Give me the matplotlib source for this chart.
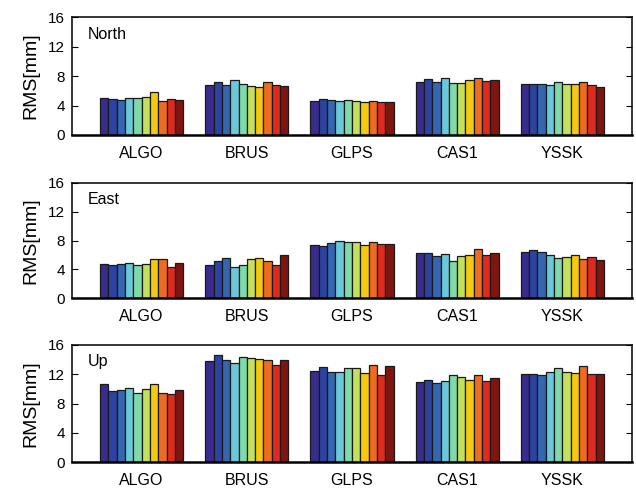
import numpy as np
import matplotlib
matplotlib.use("Agg")
import matplotlib.pyplot as plt

plt.rcParams['font.family'] = ['Liberation Sans', 'DejaVu Sans']

stations = ['ALGO', 'BRUS', 'GLPS', 'CAS1', 'YSSK']
components = ['North', 'East', 'Up']

# RMS [mm] per station, ten solutions each
rms_north = [
    [5.07, 4.93, 4.80, 5.07, 5.01, 5.20, 5.82, 4.66, 4.84, 4.80],
    [6.85, 7.21, 6.85, 7.48, 6.94, 6.72, 6.49, 7.21, 6.85, 6.72],
    [4.61, 4.88, 4.79, 4.66, 4.70, 4.66, 4.48, 4.61, 4.52, 4.48],
    [7.26, 7.62, 7.21, 7.75, 7.03, 7.03, 7.48, 7.80, 7.35, 7.48],
    [6.95, 6.95, 6.99, 6.76, 7.26, 6.99, 6.95, 7.26, 6.85, 6.59],
]
rms_east = [
    [4.71, 4.65, 4.79, 4.89, 4.65, 4.75, 5.40, 5.40, 4.38, 4.85],
    [4.57, 5.21, 5.62, 4.38, 4.61, 5.40, 5.62, 5.12, 4.57, 5.96],
    [7.34, 7.20, 7.70, 7.89, 7.76, 7.84, 7.34, 7.76, 7.56, 7.56],
    [6.32, 6.27, 5.86, 6.18, 5.21, 5.82, 6.04, 6.79, 6.00, 6.27],
    [6.41, 6.73, 6.37, 6.04, 5.54, 5.68, 6.04, 5.48, 5.76, 5.26],
]
rms_up = [
    [10.61, 9.70, 9.84, 10.15, 9.43, 9.97, 10.69, 9.47, 9.25, 9.84],
    [13.82, 14.56, 13.88, 13.55, 14.29, 14.23, 14.01, 13.88, 13.28, 13.92],
    [12.46, 12.97, 12.33, 12.33, 12.83, 12.79, 12.11, 13.28, 11.84, 13.06],
    [10.93, 11.24, 10.75, 11.10, 11.92, 11.61, 11.24, 11.92, 11.06, 11.43],
    [12.05, 11.97, 11.92, 12.24, 12.87, 12.24, 12.11, 13.06, 12.05, 12.05],
]
yticks = [0, 4, 8, 12, 16]

colors = ['#382c8c', '#2c44a0', '#3566b0', '#6ac8d8', '#80d9a8',
          '#c3e05a', '#f5c912', '#ee6b22', '#dd2b20', '#7e1510']

W, H = 636, 488
fig = plt.figure(figsize=(W / 100, H / 100), dpi=100)

# axes boxes in pixels: (top, bottom)
boxes = [(17.3, 135.0), (182.7, 298.3), (344.7, 462.3)]
left, right = 72, 632

group_w = 0.79
nbar = 10
bw = group_w / nbar
x = np.arange(1, len(stations) + 1)

for comp, data, (top, bot) in zip(components, [rms_north, rms_east, rms_up], boxes):
    ax = fig.add_axes([left / W, 1 - bot / H, (right - left) / W, (bot - top) / H])
    data = np.array(data)
    for k in range(nbar):
        offs = x - group_w / 2 + bw * (k + 0.5)
        ax.bar(offs, data[:, k], width=bw, color=colors[k],
               edgecolor='#1a1a1a', linewidth=0.9, zorder=2)
    ax.set_xlim(0.338, 5.662)
    ax.set_ylim(0, 16)
    ax.set_yticks(yticks)
    ax.set_xticks(x)
    ax.set_xticklabels(stations, fontsize=11.5)
    ax.tick_params(axis='x', length=0, pad=8)
    ax.tick_params(axis='y', direction='in', length=4, width=0.8,
                   right=True, labelsize=11, pad=5)
    for s in ax.spines.values():
        s.set_linewidth(1.1)
    ax.spines['bottom'].set_linewidth(1.8)
    ax.set_ylabel('RMS[mm]', fontsize=14, labelpad=6)
    ax.text(0.028, 0.92, comp, transform=ax.transAxes, ha='left', va='top',
            fontsize=11.5)

fig.savefig('out.png', dpi=100)
